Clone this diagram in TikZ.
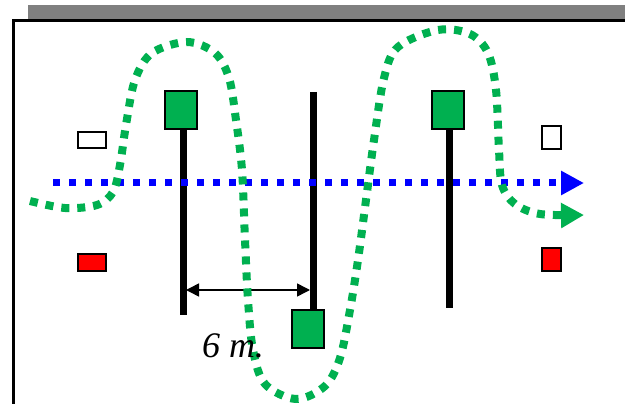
\documentclass[tikz,border=0pt]{standalone}
\usepackage{fontspec}
\setmainfont{Liberation Serif}
\usepackage{tikz}
\usetikzlibrary{arrows.meta,positioning,calc}
\usepackage{xcolor}
\definecolor{gategreen}{RGB}{0,176,80}
\definecolor{pathblue}{RGB}{0,0,255}
\definecolor{markred}{RGB}{255,0,0}
\definecolor{shadowgray}{RGB}{128,128,128}

\tikzset{
  gate/.style={draw=black,line width=2pt,fill=gategreen,minimum width=32pt,
               minimum height=38pt,inner sep=0pt},
  pole/.style={line width=7pt,black},
  marker/.style={draw=black,line width=2pt,inner sep=0pt},
  dotline/.style={line width=7pt,dash pattern=on 7pt off 9pt},
}

\begin{document}
\begin{tikzpicture}[x=1pt,y=-1pt]
    \useasboundingbox (0,0) rectangle (625,404);
    % frame and its shadow bar
    \fill[shadowgray] (28,5) rectangle (625,20);
    \draw[line width=3pt] (625,21) -- (13,21) -- (13,404);

    % poles with their gates
    \node[gate] (gateA) at (181,110.5) {};
    \node[gate] (gateB) at (308,329) {};
    \node[gate] (gateC) at (448,110.5) {};
    \coordinate (poleAbot) at (183,315);
    \coordinate (poleBtop) at (313,92);
    \coordinate (poleCbot) at (449,308);
    \draw[pole] (gateA.south -| poleAbot) -- (poleAbot);
    \draw[pole] (poleBtop) -- (gateB.north -| poleBtop);
    \draw[pole] (gateC.south -| poleCbot) -- (poleCbot);

    % side markers
    \node[marker,fill=white,minimum width=28pt,minimum height=16pt] (leftW) at (92,140) {};
    \node[marker,fill=markred,minimum width=28pt,minimum height=17pt] (leftR) at (92,262.5) {};
    \node[marker,fill=white,minimum width=19pt,minimum height=23pt] (rightW) at (551.5,137.5) {};
    \node[marker,fill=markred,minimum width=19pt,minimum height=23pt] (rightR) at (551.5,259.5) {};

    % distance between poles
    \coordinate (dimL) at (186,290);
    \coordinate (dimR) at (310,290);
    \draw[line width=1.5pt,{Triangle[length=13pt,width=13pt]}-{Triangle[length=13pt,width=13pt]}]
      (dimL) -- (dimR);

    % straight course
    \coordinate (blueS) at (53,183);
    \coordinate (blueE) at (584,183);
    \draw[dotline,pathblue,-{Triangle[length=23pt,width=23pt]}] (blueS) -- (blueE);

    % slalom course
    \draw[dotline,line width=8pt,dash pattern=on 8pt off 8pt,gategreen,
          -{Triangle[length=23pt,width=24pt]}]
      plot[smooth,tension=0.55] coordinates {
        (30,201) (65,208) (97,205) (113,192) (120,165) (126,125) (135,80)
        (152,53) (187,42) (215,53) (229,78) (236,120) (242,170) (245,240)
        (248,300) (253,350) (265,384) (296,399) (325,386) (340,358)
        (350,310) (358,260) (366,200) (374,140) (384,78) (398,47) (438,30)
        (470,34) (488,53) (496,90) (499,150) (502,185) (515,204) (540,214)
        (584,215)};

    \node[font=\fontsize{36}{42}\selectfont\itshape,inner sep=0pt] (dist) at (233,346) {6 m.};
\end{tikzpicture}
\end{document}
